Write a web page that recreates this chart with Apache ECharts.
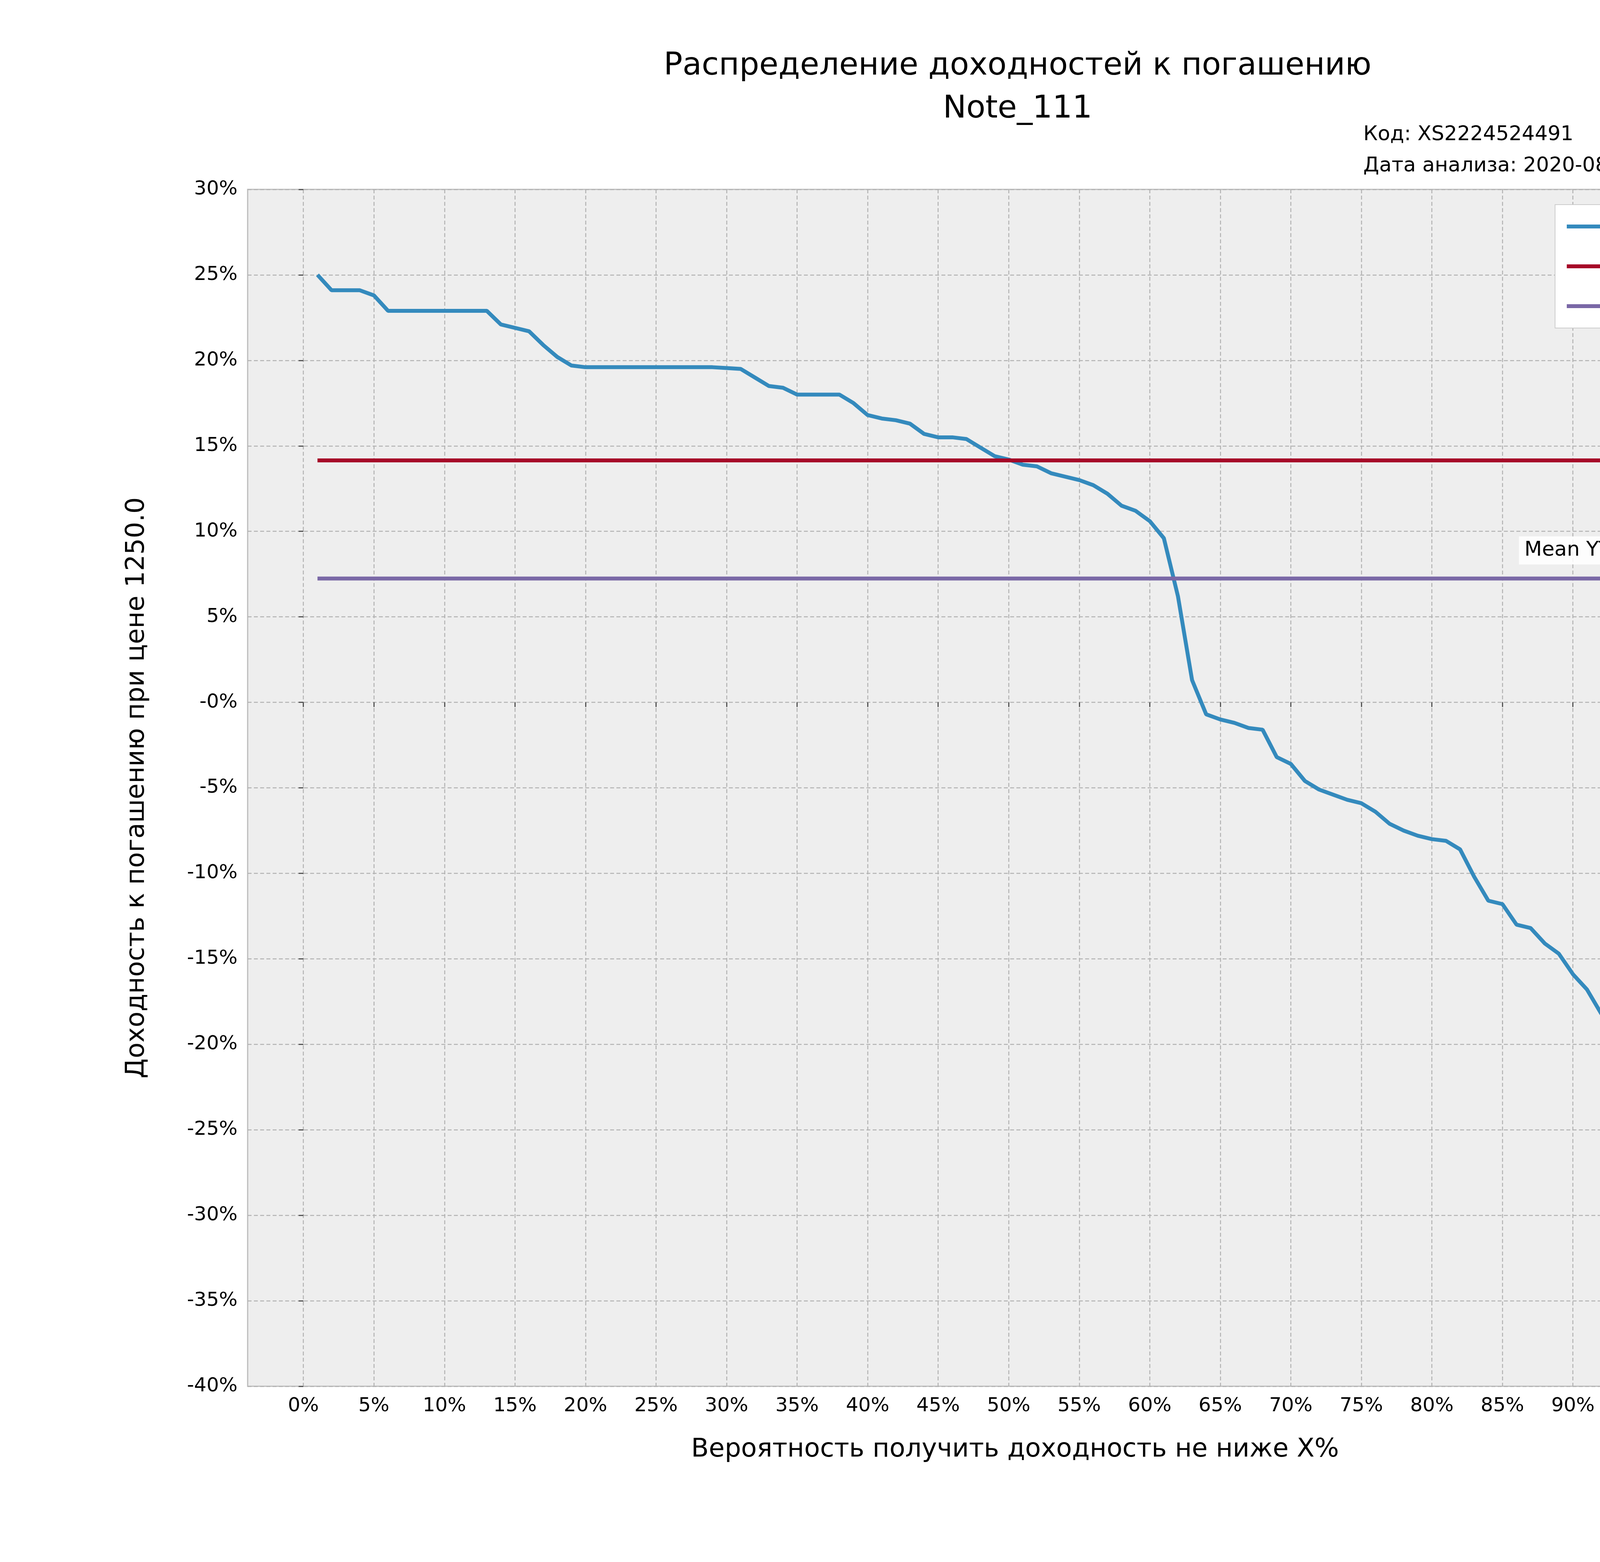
<!DOCTYPE html>
<html><head><meta charset="utf-8">
<script src="https://cdn.jsdelivr.net/npm/echarts@6/dist/echarts.min.js"></script>
<style>html,body{margin:0;padding:0;background:#fff}#c{width:5000px;height:4000px}</style>
</head><body><div id="c"></div>
<script>
var probs = [];
for (var i = 1; i <= 100; i++) probs.push(i);
var ytms = [25.0,24.1,24.1,24.1,23.8,22.9,22.9,22.9,22.9,22.9,22.9,22.9,22.9,22.1,21.9,21.7,20.9,20.2,19.7,19.6,
  19.6,19.6,19.6,19.6,19.6,19.6,19.6,19.6,19.6,19.55,19.5,19.0,18.5,18.4,18.0,18.0,18.0,18.0,17.5,16.8,
  16.6,16.5,16.3,15.7,15.5,15.5,15.4,14.9,14.4,14.2,13.9,13.8,13.4,13.2,13.0,12.7,12.2,11.5,11.2,10.6,
  9.6,6.2,1.3,-0.7,-1.0,-1.2,-1.5,-1.6,-3.2,-3.6,-4.6,-5.1,-5.4,-5.7,-5.9,-6.4,-7.1,-7.5,-7.8,-8.0,
  -8.1,-8.6,-10.2,-11.6,-11.8,-13.0,-13.2,-14.1,-14.7,-15.9,-16.8,-18.2,-19.1,-20.1,-20.8,-22.0,-22.7,-24.7,-26.6,-30.6];
var medianYtm = 14.15;
var meanYtm = 7.24;
var xTicks = [0,5,10,15,20,25,30,35,40,45,50,55,60,65,70,75,80,85,90,95,100];

var font = 'DejaVu Sans';
var chart = echarts.init(document.getElementById('c'));
var ser = probs.map(function (p, i) { return [p, ytms[i]]; });
var gridLine = {show: true, lineStyle: {color: '#b2b2b2', type: [10, 6], width: 2.5}};
chart.setOption({
  backgroundColor: '#fff',
  animation: false,
  textStyle: {fontFamily: font},
  title: [
    {text: 'Распределение доходностей к погашению', left: 2600, top: 125, textAlign: 'center',
     textStyle: {fontFamily: font, fontSize: 80, fontWeight: 'normal', color: '#000'}},
    {text: 'Note_111', left: 2600, top: 235, textAlign: 'center',
     textStyle: {fontFamily: font, fontSize: 80, fontWeight: 'normal', color: '#000'}},
    {text: 'Код: XS2224524491\nДата анализа: 2020-08-27', left: 3485, top: 300,
     textStyle: {fontFamily: font, fontSize: 52, fontWeight: 'normal', color: '#000', lineHeight: 80}}
  ],
  grid: {left: 634, right: 437, top: 485, bottom: 450, show: true, backgroundColor: '#eeeeee',
         borderColor: '#bcbcbc', borderWidth: 3},
  legend: {right: 470, top: 524, orient: 'vertical', icon: 'rect', itemWidth: 170, itemHeight: 10, itemGap: 50,
    backgroundColor: '#fff', borderColor: '#cccccc', borderWidth: 2, padding: [30, 30, 30, 30],
    textStyle: {fontFamily: font, fontSize: 52, color: '#000'},
    data: ['YTMs', 'Median YTM', 'Mean YTM']},
  xAxis: {type: 'value', min: -3.95, max: 104.85,
    name: 'Вероятность получить доходность не ниже X%', nameLocation: 'middle', nameGap: 130,
    nameTextStyle: {fontFamily: font, fontSize: 66, color: '#000'},
    axisLine: {show: false},
    axisTick: {show: true, customValues: xTicks, length: 12, lineStyle: {color: '#555', width: 3}},
    axisLabel: {customValues: xTicks, fontSize: 50, color: '#000', margin: 26,
      formatter: function (v) { return v + '%'; }},
    splitLine: gridLine},
  yAxis: {type: 'value', min: -40, max: 30, interval: 5,
    name: 'Доходность к погашению при цене 1250.0', nameLocation: 'middle', nameGap: 250,
    nameTextStyle: {fontFamily: font, fontSize: 66, color: '#000'},
    axisLine: {show: false},
    axisTick: {show: true, length: 12, lineStyle: {color: '#555', width: 3}},
    axisLabel: {fontSize: 50, color: '#000', margin: 26,
      formatter: function (v) { return (v === 0 ? '-0' : v) + '%'; }},
    splitLine: gridLine},
  series: [
    {name: 'YTMs', type: 'line', data: ser, showSymbol: false, color: '#348abd',
     lineStyle: {width: 10, color: '#348abd'}},
    {name: 'Median YTM', type: 'line', data: [[1, medianYtm], [100, medianYtm]], showSymbol: false,
     color: '#a60628', lineStyle: {width: 10, color: '#a60628'}},
    {name: 'Mean YTM', type: 'line', data: [[1, meanYtm], [100, meanYtm]], showSymbol: false,
     color: '#7a68a6', lineStyle: {width: 10, color: '#7a68a6'},
     markPoint: {symbol: 'rect', symbolSize: 1, data: [{coord: [100, meanYtm]}],
       label: {show: true, formatter: 'Mean YTM: ' + meanYtm + '%', position: 'left', offset: [0, -72],
         fontFamily: font, fontSize: 52, color: '#000', backgroundColor: 'rgba(255,255,255,0.85)',
         padding: [10, 14]}}}
  ]
});
</script></body></html>
